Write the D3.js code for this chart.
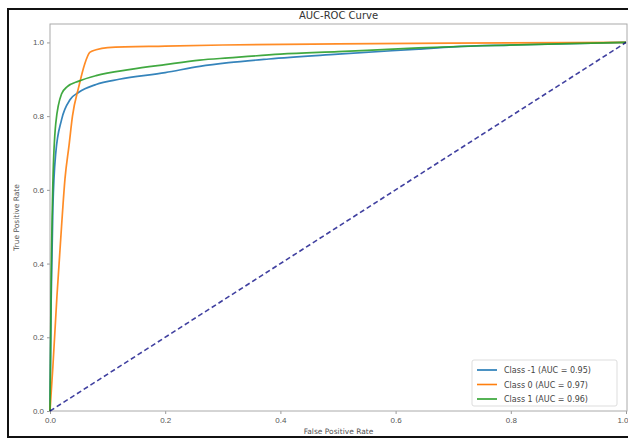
<!DOCTYPE html>
<html>
<head>
<meta charset="utf-8">
<script src="https://cdn.jsdelivr.net/npm/d3@7"></script>
<style>
  body { margin: 0; background: #fff; }
  svg { display: block; font-family: "DejaVu Sans", sans-serif; }
</style>
</head>
<body>
<div id="chart"></div>
<script>
// ROC points
const classNeg1 = [[0,0],[0.002,0.3],[0.005,0.55],[0.01,0.7],[0.02,0.79],[0.035,0.845],[0.05,0.865],[0.08,0.886],[0.12,0.9],[0.2,0.918],[0.26,0.935],[0.31,0.945],[0.38,0.955],[0.5,0.968],[0.64,0.982],[0.7,0.988],[0.8,0.993],[0.9,0.997],[1,1]];
const class0 = [[0,0],[0.005,0.12],[0.012,0.31],[0.02,0.5],[0.026,0.63],[0.033,0.72],[0.039,0.8],[0.05,0.88],[0.06,0.94],[0.069,0.973],[0.08,0.98],[0.1,0.986],[0.2,0.99],[0.3,0.993],[0.5,0.996],[0.7,0.998],[1,1]];
const class1 = [[0,0],[0.002,0.35],[0.005,0.62],[0.01,0.78],[0.02,0.86],[0.03,0.88],[0.05,0.895],[0.08,0.91],[0.14,0.927],[0.2,0.94],[0.26,0.952],[0.31,0.958],[0.4,0.968],[0.5,0.975],[0.64,0.985],[0.75,0.991],[0.9,0.997],[1,1]];
const diagonal = [[0,0],[1,1]];
const legendLabels = ["Class -1 (AUC = 0.95)", "Class 0 (AUC = 0.97)", "Class 1 (AUC = 0.96)"];
const xTicks = [0, 0.2, 0.4, 0.6, 0.8, 1.0];
const yTicks = [0, 0.2, 0.4, 0.6, 0.8, 1.0];

const W = 628, H = 439;
const margin = { top: 24, right: 1, bottom: 28, left: 50 };
const width = W - margin.left - margin.right;
const height = H - margin.top - margin.bottom;

const svg = d3.select("#chart").append("svg")
    .attr("width", W)
    .attr("height", H);

// outer black frame
svg.append("rect")
    .attr("x", 8).attr("y", 9)
    .attr("width", W).attr("height", 428)
    .attr("fill", "none")
    .attr("stroke", "#111")
    .attr("stroke-width", 2);

const g = svg.append("g")
    .attr("transform", `translate(${margin.left},${margin.top})`);

const x = d3.scaleLinear().domain([0, 1]).range([0, width - 1]);
const y = d3.scaleLinear().domain([0, 1.05]).range([height, 0]);

// axes
const xAxis = g.append("g")
    .attr("transform", `translate(0,${height})`)
    .call(d3.axisBottom(x).tickValues(xTicks).tickSize(3).tickFormat(d3.format(".1f")));
const yAxis = g.append("g")
    .call(d3.axisLeft(y).tickValues(yTicks).tickSize(3).tickFormat(d3.format(".1f")));

[xAxis, yAxis].forEach(a => {
    a.select(".domain").remove();
    a.selectAll("line").attr("stroke", "#999");
    a.selectAll("text").attr("fill", "#555").style("font-size", "8px");
});
// last x label sits at the window edge; keep it inside
xAxis.selectAll(".tick text").filter(d => d === 1).attr("text-anchor", "end").attr("dx", "2");

// spines
g.append("rect")
    .attr("width", width).attr("height", height)
    .attr("fill", "none")
    .attr("stroke", "#aaa")
    .attr("stroke-width", 1);

const line = d3.line()
    .x(d => x(d[0]))
    .y(d => y(d[1]))
    .curve(d3.curveMonotoneX);

const series = [
    { data: classNeg1, color: "#1f77b4" },
    { data: class0, color: "#ff7f0e" },
    { data: class1, color: "#2ca02c" }
];

series.forEach(s => {
    g.append("path")
        .attr("d", line(s.data))
        .attr("fill", "none")
        .attr("stroke", s.color)
        .attr("stroke-width", 1.7)
        .attr("stroke-opacity", 0.9);
});

g.append("path")
    .attr("d", d3.line().x(d => x(d[0])).y(d => y(d[1]))(diagonal))
    .attr("fill", "none")
    .attr("stroke", "navy")
    .attr("stroke-width", 1.6)
    .attr("stroke-opacity", 0.75)
    .attr("stroke-dasharray", "5,3");

// title and axis labels
svg.append("text")
    .attr("x", margin.left + width / 2)
    .attr("y", 19)
    .attr("text-anchor", "middle")
    .attr("fill", "#333")
    .style("font-size", "10px")
    .text("AUC-ROC Curve");

svg.append("text")
    .attr("x", margin.left + width / 2)
    .attr("y", 434)
    .attr("text-anchor", "middle")
    .attr("fill", "#555")
    .style("font-size", "7.5px")
    .text("False Positive Rate");

svg.append("text")
    .attr("transform", `translate(19,${margin.top + height / 2}) rotate(-90)`)
    .attr("text-anchor", "middle")
    .attr("fill", "#555")
    .style("font-size", "7.5px")
    .text("True Positive Rate");

// legend
const lg = g.append("g").attr("transform", `translate(${width - 155},${height - 51})`);
lg.append("rect")
    .attr("width", 145).attr("height", 46)
    .attr("rx", 2)
    .attr("fill", "#fff")
    .attr("fill-opacity", 0.8)
    .attr("stroke", "#ddd");

const item = lg.selectAll(".item")
    .data(series)
    .enter().append("g")
    .attr("transform", (d, i) => `translate(5,${10 + i * 14.5})`);
item.append("line")
    .attr("x1", 0).attr("x2", 20)
    .attr("stroke", d => d.color)
    .attr("stroke-width", 1.6);
item.append("text")
    .attr("x", 27).attr("y", 3)
    .attr("fill", "#444")
    .style("font-size", "8px")
    .text((d, i) => legendLabels[i]);
</script>
</body>
</html>
